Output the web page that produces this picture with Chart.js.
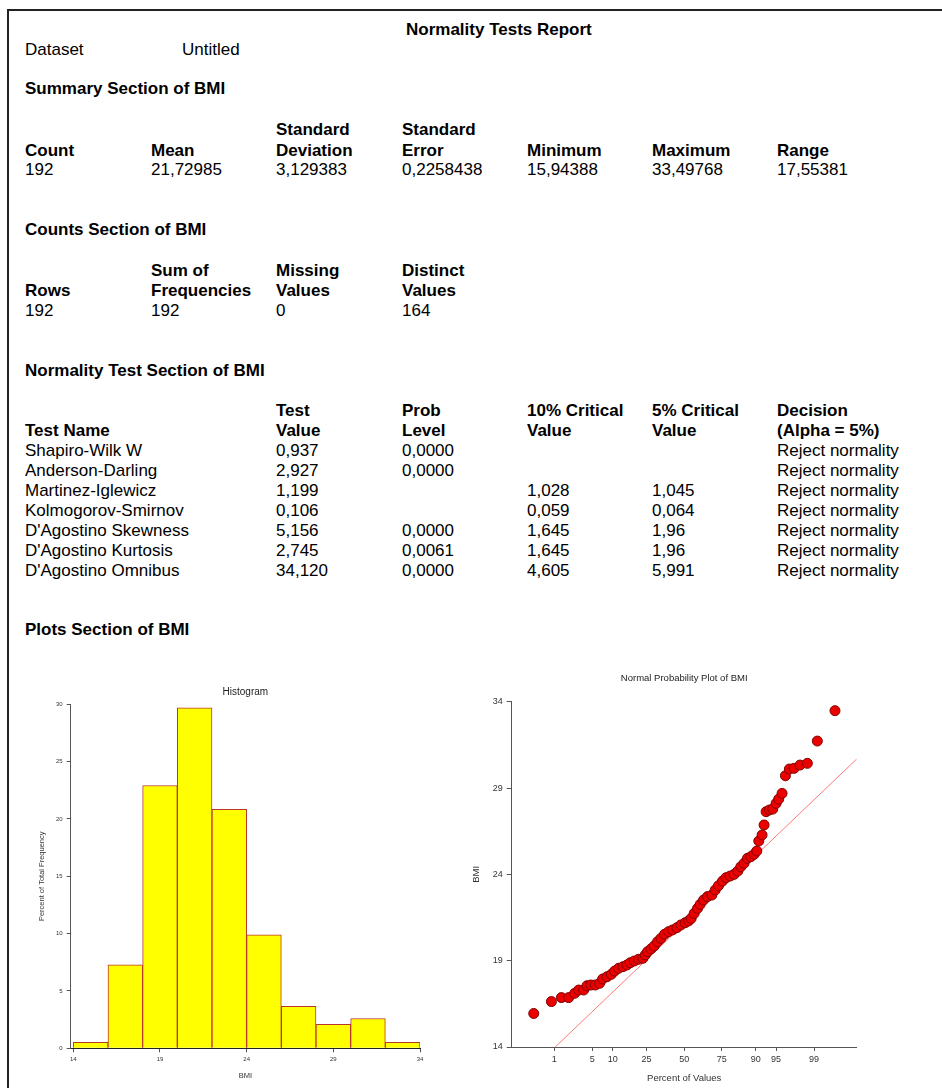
<!DOCTYPE html>
<html>
<head>
<meta charset="utf-8">
<script src="https://cdn.jsdelivr.net/npm/chart.js@4"></script>
<style>
  html, body { margin: 0; padding: 0; background: #fff; }
  body { width: 942px; height: 1088px; position: relative; overflow: hidden;
         font-family: "Liberation Sans", Arial, sans-serif; font-size: 17px; color: #000; }
  .t { position: absolute; line-height: 20px; white-space: nowrap; }
  .b { font-weight: bold; }
  #borderTop { position: absolute; left: 7px; top: 9px; width: 935px; height: 2px; background: #222; }
  #borderLeft { position: absolute; left: 7px; top: 9px; width: 2px; height: 1079px; background: #222; }
  #histWrap { position: absolute; left: 20px; top: 680px; width: 420px; height: 408px; }
  #probWrap { position: absolute; left: 470px; top: 665px; width: 400px; height: 423px; }
</style>
</head>
<body>
<div id="borderTop"></div>
<div id="borderLeft"></div>

<div class="t b" style="left:406px;top:20px">Normality Tests Report</div>
<div class="t" style="left:25px;top:40px">Dataset</div>
<div class="t" style="left:182px;top:40px">Untitled</div>

<div class="t b" style="left:25px;top:79px">Summary Section of BMI</div>
<div class="t b" style="left:276px;top:120px">Standard</div>
<div class="t b" style="left:402px;top:120px">Standard</div>
<div class="t b" style="left:25px;top:141px">Count</div>
<div class="t b" style="left:151px;top:141px">Mean</div>
<div class="t b" style="left:276px;top:141px">Deviation</div>
<div class="t b" style="left:402px;top:141px">Error</div>
<div class="t b" style="left:527px;top:141px">Minimum</div>
<div class="t b" style="left:652px;top:141px">Maximum</div>
<div class="t b" style="left:777px;top:141px">Range</div>
<div class="t" style="left:25px;top:160px">192</div>
<div class="t" style="left:151px;top:160px">21,72985</div>
<div class="t" style="left:276px;top:160px">3,129383</div>
<div class="t" style="left:402px;top:160px">0,2258438</div>
<div class="t" style="left:527px;top:160px">15,94388</div>
<div class="t" style="left:652px;top:160px">33,49768</div>
<div class="t" style="left:777px;top:160px">17,55381</div>

<div class="t b" style="left:25px;top:220px">Counts Section of BMI</div>
<div class="t b" style="left:151px;top:261px">Sum of</div>
<div class="t b" style="left:276px;top:261px">Missing</div>
<div class="t b" style="left:402px;top:261px">Distinct</div>
<div class="t b" style="left:25px;top:281px">Rows</div>
<div class="t b" style="left:151px;top:281px">Frequencies</div>
<div class="t b" style="left:276px;top:281px">Values</div>
<div class="t b" style="left:402px;top:281px">Values</div>
<div class="t" style="left:25px;top:301px">192</div>
<div class="t" style="left:151px;top:301px">192</div>
<div class="t" style="left:276px;top:301px">0</div>
<div class="t" style="left:402px;top:301px">164</div>

<div class="t b" style="left:25px;top:361px">Normality Test Section of BMI</div>
<div class="t b" style="left:276px;top:401px">Test</div>
<div class="t b" style="left:402px;top:401px">Prob</div>
<div class="t b" style="left:527px;top:401px">10% Critical</div>
<div class="t b" style="left:652px;top:401px">5% Critical</div>
<div class="t b" style="left:777px;top:401px">Decision</div>
<div class="t b" style="left:25px;top:421px">Test Name</div>
<div class="t b" style="left:276px;top:421px">Value</div>
<div class="t b" style="left:402px;top:421px">Level</div>
<div class="t b" style="left:527px;top:421px">Value</div>
<div class="t b" style="left:652px;top:421px">Value</div>
<div class="t b" style="left:777px;top:421px">(Alpha = 5%)</div>
<div id="testRows"></div>

<div class="t b" style="left:25px;top:620px">Plots Section of BMI</div>

<div id="histWrap"><canvas id="hist" width="420" height="408"></canvas></div>
<div id="probWrap"><canvas id="prob" width="400" height="423"></canvas></div>

<script>
// normality test table
const testNames = ["Shapiro-Wilk W", "Anderson-Darling", "Martinez-Iglewicz", "Kolmogorov-Smirnov",
  "D'Agostino Skewness", "D'Agostino Kurtosis", "D'Agostino Omnibus"];
const testValues = ["0,937", "2,927", "1,199", "0,106", "5,156", "2,745", "34,120"];
const probLevels = ["0,0000", "0,0000", "", "", "0,0000", "0,0061", "0,0000"];
const crit10 = ["", "", "1,028", "0,059", "1,645", "1,645", "4,605"];
const crit5 = ["", "", "1,045", "0,064", "1,96", "1,96", "5,991"];
const decisions = testNames.map(() => "Reject normality");

// histogram
const binEdges = [14, 16, 18, 20, 22, 24, 26, 28, 30, 32, 34];
const binPercents = [0.52, 7.29, 22.92, 29.69, 20.83, 9.90, 3.65, 2.08, 2.60, 0.52];
const histTicks = [14, 19, 24, 29, 34];

// normal probability plot (x = normal score, y = BMI)
const probZ = [-2.695, -2.379, -2.200, -2.069, -1.962, -1.890, -1.801, -1.741, -1.670, -1.592,
  -1.515, -1.461, -1.383, -1.306, -1.246, -1.175, -1.097, -1.026, -0.966, -0.894,
  -0.817, -0.739, -0.698, -0.656, -0.596, -0.537, -0.477, -0.417, -0.352, -0.280,
  -0.209, -0.131, -0.060, 0.018, 0.078, 0.125, 0.179, 0.239, 0.286, 0.346,
  0.417, 0.495, 0.555, 0.614, 0.686, 0.751, 0.823, 0.894, 0.960, 1.014,
  1.073, 1.133, 1.193, 1.252, 1.300, 1.336, 1.395, 1.431, 1.467, 1.527,
  1.586, 1.646, 1.693, 1.753, 1.813, 1.884, 1.968, 2.075, 2.206, 2.385, 2.701];
const probBMI = [15.94, 16.63, 16.86, 16.86, 17.11, 17.30, 17.30, 17.55, 17.59, 17.59,
  17.69, 17.94, 18.07, 18.21, 18.40, 18.56, 18.65, 18.75, 18.88, 18.98,
  19.08, 19.14, 19.33, 19.52, 19.68, 19.85, 20.10, 20.29, 20.53, 20.68,
  20.78, 20.91, 21.07, 21.20, 21.30, 21.45, 21.74, 22.03, 22.26, 22.51,
  22.71, 22.80, 23.09, 23.34, 23.61, 23.81, 23.90, 24.00, 24.19, 24.44,
  24.64, 24.93, 25.02, 25.16, 25.35, 25.93, 26.28, 26.86, 27.63, 27.73,
  27.78, 28.11, 28.36, 28.69, 29.71, 30.10, 30.14, 30.33, 30.43, 31.72, 33.48];
const refLineZ = [-2.31, 3.09];
const refLineBMI = [14.0, 30.68];
const probTickZ = [-2.326, -1.645, -1.282, -0.674, 0, 0.674, 1.282, 1.645, 2.326];
const probTickLabels = ["1", "5", "10", "25", "50", "75", "90", "95", "99"];

// build the test rows
const cols = [[testNames, 25], [testValues, 276], [probLevels, 402], [crit10, 527], [crit5, 652], [decisions, 777]];
const rowsDiv = document.getElementById("testRows");
testNames.forEach((_, i) => {
  cols.forEach(([arr, x]) => {
    if (!arr[i]) return;
    const d = document.createElement("div");
    d.className = "t";
    d.style.left = x + "px";
    d.style.top = (441 + i * 20) + "px";
    d.textContent = arr[i];
    rowsDiv.appendChild(d);
  });
});

Chart.defaults.font.family = "'Liberation Sans', Arial, sans-serif";
Chart.defaults.color = "#333";
Chart.defaults.animation = false;

const axisGrey = "#555";

new Chart(document.getElementById("hist"), {
  type: "bar",
  data: {
    datasets: [{
      data: binPercents.map((p, i) => ({ x: (binEdges[i] + binEdges[i + 1]) / 2, y: p })),
      backgroundColor: "#FFFF00",
      borderColor: "rgb(185,55,45)",
      borderWidth: 1,
      barPercentage: 1,
      categoryPercentage: 1,
    }],
  },
  options: {
    responsive: false,
    layout: { padding: { left: 0, right: 20, top: 0, bottom: 0 } },
    plugins: {
      legend: { display: false },
      tooltip: { enabled: false },
      title: {
        display: true, text: "Histogram", fullSize: false,
        font: { size: 10, weight: "normal" }, color: "#222",
        padding: { top: 6.7, bottom: 5.6 },
      },
    },
    scales: {
      x: {
        type: "linear", offset: false, min: 13.85, max: 34,
        afterBuildTicks: (s) => { s.ticks = histTicks.map((v) => ({ value: v })); },
        afterFit: (s) => { s.height = 39.7; },
        grid: { display: true, drawOnChartArea: false, offset: false, tickLength: 4, color: axisGrey },
        border: { color: "#222" },
        ticks: { font: { size: 6 }, padding: 3, maxRotation: 0 },
        title: { display: true, text: "BMI", font: { size: 7.5 }, padding: { bottom: 7.5, top: 0 } },
      },
      y: {
        min: 0, max: 30,
        afterFit: (s) => { s.width = 50.7; },
        grid: { display: true, drawOnChartArea: false, tickLength: 4, color: axisGrey },
        border: { color: axisGrey },
        ticks: { stepSize: 5, font: { size: 6 }, padding: 4 },
        title: { display: true, text: "Percent of Total Frequency", font: { size: 7.5 }, padding: { top: 17.2, bottom: 0 } },
      },
    },
  },
});

new Chart(document.getElementById("prob"), {
  type: "scatter",
  data: {
    datasets: [
      {
        data: refLineZ.map((z, i) => ({ x: z, y: refLineBMI[i] })),
        showLine: true,
        borderColor: "rgb(255,120,120)",
        borderWidth: 1,
        pointRadius: 0,
        order: 2,
      },
      {
        data: probZ.map((z, i) => ({ x: z, y: probBMI[i] })),
        backgroundColor: "rgb(235,0,0)",
        borderColor: "rgb(130,0,0)",
        borderWidth: 1,
        pointRadius: 5,
        order: 1,
      },
    ],
  },
  options: {
    responsive: false,
    layout: { padding: { left: 0, right: 13.3, top: 0, bottom: 0 } },
    plugins: {
      legend: { display: false },
      tooltip: { enabled: false },
      title: {
        display: true, text: "Normal Probability Plot of BMI", fullSize: false,
        font: { size: 9.5, weight: "normal" }, color: "#222",
        padding: { top: 7.6, bottom: 17.7 },
      },
    },
    scales: {
      x: {
        type: "linear", min: -3.09, max: 3.09,
        afterBuildTicks: (s) => { s.ticks = probTickZ.map((v) => ({ value: v })); },
        afterFit: (s) => { s.height = 41; },
        grid: { display: true, drawOnChartArea: false, tickLength: 4, color: axisGrey },
        border: { color: axisGrey },
        ticks: { font: { size: 9 }, padding: 3, maxRotation: 0, autoSkip: false,
          callback: (v, i) => probTickLabels[i] },
        title: { display: true, text: "Percent of Values", font: { size: 9.5 }, padding: { bottom: 4, top: 0 } },
      },
      y: {
        min: 14, max: 34,
        afterFit: (s) => { s.width = 41.7; },
        grid: { display: true, drawOnChartArea: false, tickLength: 5, color: axisGrey },
        border: { color: axisGrey },
        ticks: { stepSize: 5, font: { size: 9 }, padding: 4 },
        title: { display: true, text: "BMI", font: { size: 9.5 }, padding: { top: 1, bottom: 0 } },
      },
    },
  },
});
</script>
</body>
</html>
